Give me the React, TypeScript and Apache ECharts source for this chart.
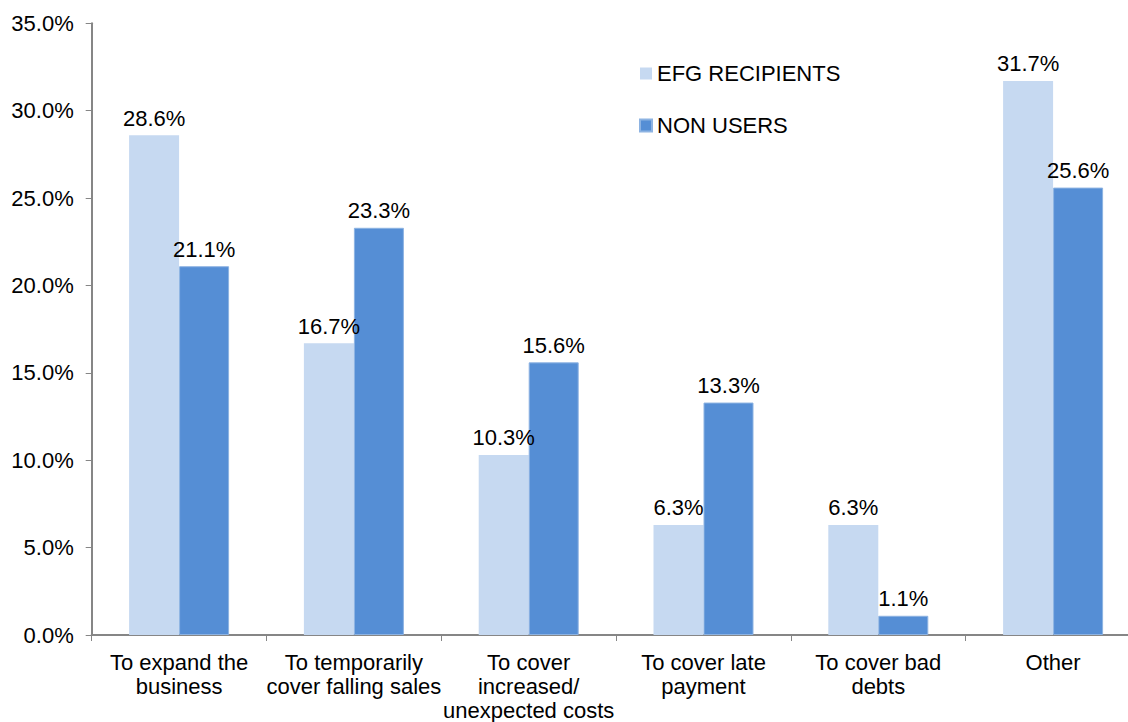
import React, { useEffect, useRef } from "react";
import * as echarts from "echarts";

const categories = [
  "To expand the\nbusiness",
  "To temporarily\ncover falling sales",
  "To cover\nincreased/\nunexpected costs",
  "To cover late\npayment",
  "To cover bad\ndebts",
  "Other",
];
const seriesNames = ["EFG RECIPIENTS", "NON USERS"];
const efgRecipients = [28.6, 16.7, 10.3, 6.3, 6.3, 31.7];
const nonUsers = [21.1, 23.3, 15.6, 13.3, 1.1, 25.6];
const yMin = 0;
const yMax = 35;
const yInterval = 5;

const FONT = "'Liberation Sans', Arial, sans-serif";
const FS = 22;

export default function App() {
  const ref = useRef<HTMLDivElement>(null);
  useEffect(() => {
    if (!ref.current) return;
    const chart = echarts.init(ref.current, undefined, { renderer: "svg" });
    const label = {
      show: true,
      position: "top" as const,
      distance: 6,
      fontSize: FS,
      fontFamily: FONT,
      color: "#000",
      formatter: (p: any) => Number(p.value).toFixed(1) + "%",
    };
    chart.setOption({
      animation: false,
      backgroundColor: "#fff",
      textStyle: { fontFamily: FONT },
      grid: { left: 91.7, right: 0.5, top: 23.3, bottom: 85.4, containLabel: false },
      legend: {
        orient: "vertical",
        left: 639,
        top: 61.5,
        padding: 0,
        itemWidth: 12,
        itemHeight: 12,
        itemGap: 28,
        icon: "rect",
        textStyle: { fontSize: FS, fontFamily: FONT, color: "#000", lineHeight: 24 },
        data: seriesNames,
      },
      xAxis: {
        type: "category",
        data: categories,
        axisLine: { lineStyle: { color: "#868686", width: 2 } },
        axisTick: { show: true, length: 6, lineStyle: { color: "#868686" } },
        axisLabel: {
          fontSize: FS,
          fontFamily: FONT,
          color: "#000",
          lineHeight: 24,
          margin: 15,
          interval: 0,
        },
      },
      yAxis: {
        type: "value",
        min: yMin,
        max: yMax,
        interval: yInterval,
        splitLine: { show: false },
        axisLine: { show: true, lineStyle: { color: "#868686", width: 2 } },
        axisTick: { show: true, length: 6, lineStyle: { color: "#868686" } },
        axisLabel: {
          fontSize: FS,
          fontFamily: FONT,
          color: "#000",
          margin: 18,
          formatter: (v: number) => v.toFixed(1) + "%",
        },
      },
      series: [
        {
          name: seriesNames[0],
          type: "bar",
          data: efgRecipients,
          barWidth: 50,
          barGap: "0%",
          itemStyle: { color: "#C6D9F1" },
          label,
        },
        {
          name: seriesNames[1],
          type: "bar",
          data: nonUsers,
          barWidth: 50,
          barGap: "0%",
          itemStyle: { color: "#558ED5", borderColor: "#8DB3E2", borderWidth: 1 },
          label,
        },
      ],
    });
    return () => chart.dispose();
  }, []);
  return (
    <div
      style={{
        position: "fixed",
        left: 0,
        top: 0,
        width: 1128,
        height: 722,
        overflow: "hidden",
        background: "#fff",
      }}
    >
      <div ref={ref} style={{ width: 1141, height: 722 }} />
    </div>
  );
}
